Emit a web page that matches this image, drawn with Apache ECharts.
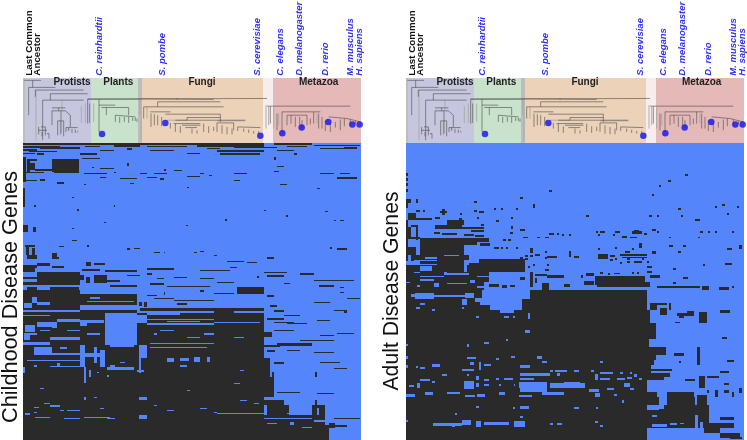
<!DOCTYPE html>
<html><head><meta charset="utf-8">
<style>html,body{margin:0;padding:0;background:#fff}#c{width:747px;height:440px}</style>
<script src="https://cdn.jsdelivr.net/npm/echarts@6/dist/echarts.min.js"></script>
</head><body><div id="c"></div>
<script>
// x units run 0-1014 across a panel (plus a panel offset), y units run down the panel.
const panelTitles = ['Childhood Disease Genes', 'Adult Disease Genes'];
const cladeBands = [
 ['', 68, 75, '#BDBDBD'], ['Protists', 75, 273, '#C6C6DF'], ['Plants', 273, 412, '#C8E2CC'], ['', 412, 426, '#BDBDBD'],
 ['Fungi', 426, 789, '#ECD2B8'], ['', 789, 819, '#F6EDEC'], ['Metazoa', 819, 1082, '#E4B9B8']];
const cladeLabels = [['Protists', 215], ['Plants', 354], ['Fungi', 605], ['Metazoa', 955]];
const ancestorLabels = [['Last Common', 88], ['Ancestor', 111]];
const speciesLabels = [['C. reinhardtii', 297], ['S. pombe', 486], ['S. cerevisiae', 772], ['C. elegans', 840],
 ['D. melanogaster', 898], ['D. rerio', 976], ['M. musculus', 1050], ['H. sapiens', 1077]];
const speciesDots = [[305, 401], [495, 368], [780, 406], [846, 399], [904, 382], [984, 365], [1056, 373], [1078, 373]];
const treeDark = [
 [72,241,122,241],[97,241,97,262],[85,262,165,262],[85,262,85,345],[105,270,250,270],[105,270,105,290],[150,281,262,281],[150,281,150,300],
 [127,300,250,300],[127,300,127,420],[155,323,195,323],[175,323,175,332],[155,332,195,332],[155,332,155,375],[182,332,182,400],[195,332,210,345],[210,345,210,380],
 [115,380,115,402],[115,390,140,390],[122,380,135,380],[135,380,135,405],[140,400,146,400],[146,400,146,415],[125,395,125,408],
 [172,362,172,405],[172,362,190,362],[190,362,190,408],[197,382,232,382],[197,382,197,395],[205,382,205,392],[215,386,215,398],[225,388,225,398],[232,392,232,396],
 [262,297,420,297],[262,297,262,370],[268,310,268,368],[262,297,800,295],[420,296,640,298],[530,294,530,298],
 [296,297,296,395],[296,315,345,315],[303,322,385,322],[318,322,318,345],[345,345,405,350],[345,345,345,365],[358,350,358,368],[372,350,372,365],[385,350,385,368],[397,352,397,362],[405,352,405,362],[410,355,410,365],[385,322,385,345],
 [430,320,670,320],[430,320,430,355],[472,305,472,320],[472,305,660,305],[450,335,510,335],[452,340,452,380],[462,342,462,375],[472,345,472,375],[484,350,484,378],[495,342,660,342],[660,342,660,365],
 [525,360,735,360],[560,352,660,352],[560,352,560,360],[520,370,600,370],[545,375,600,375],[510,368,510,385],[525,370,525,395],[540,378,540,398],[555,382,590,382],[575,385,575,400],[590,390,590,400],[610,370,610,395],[625,378,625,398],[640,380,640,392],
 [650,368,700,368],[650,368,650,395],[665,375,665,400],[680,380,680,402],[695,385,695,402],[700,368,700,390],[712,380,780,382],[712,380,712,392],[730,385,730,395],[745,388,745,398],[760,392,760,400],[775,392,775,402],
 [800,318,1050,318],[810,318,810,370],[830,340,830,390],[845,335,960,335],[845,335,845,395],[860,345,920,345],[860,345,860,375],[872,345,872,370],[885,350,885,380],[898,350,898,375],[905,360,905,383],[920,345,920,375],[930,355,930,372],
 [940,335,940,370],[955,340,955,385],[985,350,1040,355],[1040,355,1080,365],[965,350,965,385],[975,360,975,392],[990,370,990,395],[1005,365,1005,382],[1020,358,1020,390],[1032,355,1032,378],[1050,358,1050,372],[1065,362,1065,372]];
const treeLight = [
 [107,270,107,420],[185,300,185,330],[180,362,180,405],[243,318,243,368],[255,310,255,368],[280,310,280,365],
 [418,297,418,345],[422,300,422,420],[440,320,440,355],[500,360,560,360],[650,362,735,362],[797,315,797,385],[805,320,805,375],[820,322,820,385],[835,340,835,375],[950,340,950,370]];

const childTopDark = [
 [68,240,10,16],[68,180,18,24],[120,240,22,26],[68,110,27,33],[85,170,32,36],[68,105,38,43],[110,130,40,44],
 [240,430,10,14],[255,300,18,22],[340,420,16,20],[430,790,10,14],[440,560,18,22],[590,760,16,20],[700,790,14,24],[650,790,30,36],[660,780,38,44],[620,660,24,28],[820,935,10,16],[860,920,17,21],[790,830,20,24],[940,1080,14,18],[960,1040,24,27],[1030,1070,22,26],[830,880,30,34],[450,520,30,33],[300,340,30,33],[560,600,38,41],[820,826,50,60],[880,890,40,44],[380,395,25,30],[240,290,40,44],
 [155,237,57,95],[68,76,50,125],[80,110,57,62],[80,90,62,95],[90,105,70,90],[105,155,88,94],[74,130,96,100],[160,235,95,98],
 [245,300,55,58],[380,386,70,78],[300,340,85,88],[275,282,80,84],[340,346,95,99],[250,320,100,103],[420,440,98,101],[460,500,100,103],[490,498,88,92],[520,545,90,93],[600,610,98,102],[625,635,105,108],[700,740,100,103],[820,835,92,96],[960,1000,100,103],[1010,1070,112,116],[1020,1050,100,103],[440,470,112,115],[480,490,115,120],[75,110,120,124],[120,135,118,122],[170,192,125,132],[250,256,132,136],[390,400,128,132],[560,565,140,144],[950,958,145,148],[840,860,132,135],[700,720,120,123],[360,410,115,118],[300,316,112,115],[560,600,108,111],[830,850,78,82],
 [68,73,145,200],[215,220,170,174],[230,236,208,212],[100,106,195,200],[340,345,195,200],[790,798,210,214],[858,862,226,232],[675,680,238,242],[310,318,246,250],[975,983,212,216],[1000,1008,240,244],[1020,1030,240,244],[558,564,255,258],[215,220,265,268],[68,84,255,275],[98,106,262,275],
 [75,105,316,322],[78,85,322,345],[95,105,325,345],[80,110,345,356],[155,170,338,358],[170,175,350,358],[175,190,318,322],[215,230,300,303],[260,265,315,320],[380,390,325,329],[400,420,325,328],[1010,1040,325,329],[990,995,322,327],[460,480,335,338],[490,495,335,340],[580,590,335,338],[600,610,333,336],[640,650,345,348],[680,730,362,366],[740,770,367,370],[800,820,352,356],[690,710,380,383],
 [110,148,368,378],[68,110,376,384],[155,190,377,385],[258,272,367,378],[288,315,370,376],[280,290,370,376],[68,105,385,395],[245,300,388,392],[315,410,390,395],[440,520,385,390],[600,690,390,393],[790,860,395,398],
 [110,240,396,435],[68,110,410,416],[68,110,425,435],[80,110,440,450],[150,235,440,450],[258,270,410,430],[280,320,405,430],[240,250,405,420],[320,360,420,425],[450,490,428,436],[500,630,438,442],[710,790,441,450],[770,776,408,413],[800,850,405,410],[900,940,400,404],[820,860,395,400],[330,410,435,440],[650,700,425,428],[940,1060,420,423],[955,1000,435,440],[1020,1030,440,444],[380,420,405,408],[440,455,400,405],[470,490,415,418],[520,560,410,413],[600,640,415,418],[850,870,430,433]];
const childLowDark = [
 [68,240,0,450],[240,410,12,45],[240,315,68,450],[315,410,165,450],[240,410,60,68],
 [440,790,115,450],[410,440,100,450],[440,640,90,115],[640,790,70,115],[440,640,75,80],[710,790,0,13],
 [790,810,205,260],[790,820,260,320],[790,850,330,345],[800,865,345,375],[790,935,375,450],[935,975,345,450],[975,985,405,450],[985,1005,400,415],
 [800,850,85,90],[820,880,95,98],[790,815,125,140],[790,840,165,170],[830,935,160,168],[820,880,120,123],[900,1000,150,153],[860,900,180,183],[940,1000,185,190],[800,825,180,186],[820,850,215,222],[960,1020,215,218],[815,820,245,262],[943,950,245,262],[1000,1040,235,238],[1010,1060,130,133],[950,990,90,93],[1000,1040,60,63],[1030,1040,60,70],[830,900,305,308],[1000,1080,385,388],[950,1000,310,313],[945,950,330,345],[1000,1040,405,412],[820,850,60,65],[860,920,100,103],[960,1000,135,138],[810,830,45,50],[1040,1080,25,28],[940,990,35,38],[850,900,75,78],
 [440,470,15,18],[490,495,5,15],[430,440,35,50],[640,700,8,12],[530,560,40,44],[600,610,0,5],[520,640,30,33],[460,520,25,28],[800,820,15,20],[1020,1030,5,8],[420,790,55,62],[540,640,70,75],[640,700,62,70],
 [440,640,82,86],[410,440,70,74],[415,425,36,48]];
const childLowBlue = [
 [95,110,20,40],[110,150,35,45],[70,95,40,55],[110,155,95,112],[170,240,88,97],[155,170,97,115],[75,105,105,125],[240,310,90,100],[315,410,110,165],[340,410,90,110],[150,240,140,150],[68,150,155,165],[100,155,170,190],[240,255,165,230],[280,290,170,220],[300,315,180,230],[415,440,165,205],[415,422,205,250],[500,520,205,215],[540,565,205,212],[580,600,200,215],[620,630,200,215],[150,240,228,232],[320,400,232,240],[250,258,230,280],[100,240,190,195],[240,315,190,200],[410,430,240,246],[415,440,320,330],[415,440,375,388],[105,150,380,385],[190,240,385,388],[250,330,380,385],[650,790,368,372],[450,640,158,162],[450,620,170,174],[100,115,350,355],[150,180,345,350],[250,258,320,330],[75,90,370,374],[120,130,295,298],[540,560,225,230],[700,720,280,283],[640,650,365,370],
 [240,410,45,60],[68,240,60,66],[68,150,74,78],[260,400,32,36],[270,300,20,26],[440,640,100,104],[500,600,92,96],[640,780,96,100],[70,90,130,150],[80,240,210,214],[68,75,230,250],[860,880,370,373],[790,935,385,388],[800,830,400,403],[870,880,395,405],[940,975,390,395],[950,955,355,375],[905,935,410,415],
 [240,260,100,108],[330,400,165,170],[180,200,170,176],[85,110,130,134],[120,150,120,124],[200,240,120,124],[260,300,130,134],[265,272,240,260],[330,345,225,230],[360,375,215,220],[170,178,220,228],[100,110,225,230],[290,296,245,250],[320,326,255,260],[460,470,130,134],[560,600,140,144],[700,730,140,143],[610,640,130,134],[480,520,120,124],[100,110,365,368],[180,190,360,363],[130,150,340,343],[300,310,355,358],[280,290,320,323],[200,240,360,363],[320,345,385,388],[500,520,360,363],[460,470,345,348],[560,570,300,303],[720,740,330,333],[720,730,240,243],[600,620,355,358],[760,775,340,343]];

const adultTopDark = [
 [17,24,98,108],[17,24,113,123],[17,24,128,138],[17,24,146,156],[17,32,178,188],[46,53,178,188],[17,24,188,203],
 [222,229,183,188],[360,367,172,178],[447,455,150,157],[755,762,161,168],[775,783,135,141],[804,812,120,126],[855,863,103,109],
 [397,404,192,204],[280,288,204,210],[302,309,204,210],[346,353,204,210],[46,60,209,215],[68,75,209,215],[119,140,212,218],[126,133,206,224],[222,229,209,215],[236,250,214,220],[178,185,220,226],[24,46,220,235],[24,96,235,241],[104,118,232,238],[229,236,230,236],[331,338,230,236],[288,295,240,246],[557,565,226,232],[834,841,204,210],[944,951,198,204],[966,973,193,199],[1010,1017,198,204],[980,987,220,226],[842,849,225,231],[747,754,225,231],[769,776,225,231],[885,899,236,242],
 [17,24,240,345],[140,190,240,255],[175,185,235,262],[105,185,255,266],[32,53,255,262],[46,53,262,300],[17,60,290,296],[24,32,262,290],
 [243,250,252,258],[331,338,258,268],[360,375,268,273],[185,250,262,268],[212,250,270,276],[126,170,280,286],[100,118,275,282],[190,220,282,288],[225,250,285,290],
 [330,338,275,282],[324,331,298,304],[309,316,298,304],[367,382,290,295],[411,418,290,295],[433,447,290,295],[447,462,280,285],[470,477,280,285],[484,491,283,289],[506,513,283,289],[586,593,273,279],[600,615,273,279],[593,600,283,289],[644,659,273,279],[637,644,282,288],[695,724,273,283],[702,717,270,276],[688,710,290,295],[666,681,287,293],[732,739,280,286],[754,768,268,274],[769,776,273,279],[805,812,290,295],[893,900,290,295],[900,907,273,279],[922,929,273,279],[944,951,273,279],[995,1002,273,279],
 [60,190,295,345],[60,265,293,305],[190,230,305,315],[32,46,340,350],[17,205,345,360],[110,190,345,395],[17,190,375,395],[235,375,358,395],[200,235,370,400],[60,110,362,372],[24,46,322,345],
 [240,270,310,318],[280,295,322,328],[302,309,322,328],[317,324,322,328],[346,353,322,328],[390,397,325,340],[433,440,332,338],[506,513,332,338],[593,600,325,331],[644,651,322,328],[673,688,332,338],[695,702,325,331],[717,724,310,325],[754,768,332,342],[805,819,315,321],[849,856,315,321],[834,841,332,338],[980,995,325,331],[1017,1024,315,326],
 [440,470,348,354],[433,440,352,358],[506,513,340,352],[520,535,348,354],[593,622,343,357],[630,645,345,351],[630,637,357,363],[659,739,343,348],[666,739,350,355],[644,651,355,361],[681,688,355,361],[724,731,355,361],[659,666,365,371],[681,688,362,368],[702,724,362,368],[739,746,362,368],[375,382,345,351],[390,397,345,351],[404,418,343,349],[360,367,352,358],[375,382,355,361],[397,404,373,378],[382,390,378,383],[440,447,373,379],[433,447,387,393],[739,754,378,384],[819,826,385,391],[907,914,373,379],[973,995,368,374],
 [739,754,392,398],[849,863,410,416],[819,826,427,433],
 [390,397,395,440],[404,440,402,408],[440,490,405,413],[404,411,413,430],[426,447,430,450],[360,375,412,420],[490,510,433,440],[542,549,405,415],[558,580,398,408],[600,608,395,403],[622,630,400,405],[640,660,398,403],[695,702,395,401],[710,717,395,401],[585,735,408,435],[550,580,423,435],[590,750,427,440],[750,780,405,415],[770,830,437,445],[830,900,437,445],[905,925,437,450],[955,985,440,450],[995,1002,437,443],
 [17,265,395,450],[265,295,433,440],[305,320,435,445],[330,345,435,442],[17,40,350,362]];
const adultTopBlue = [
 [24,32,345,375],[60,96,378,393],[60,130,408,412],[130,140,395,405],[40,60,395,400],[60,100,418,422],[140,205,400,404],[230,275,408,412],[140,200,428,433],[17,30,425,430],[50,60,435,440],[100,115,430,440],[230,250,438,445],[250,265,425,450],[210,225,420,428],[75,110,352,358],[190,205,360,375],[130,175,345,348]];
const adultLowDark = [
 [17,740,0,450],[740,768,100,148],[740,747,148,172],[740,797,172,195],[740,768,195,210],[740,760,210,225],[740,752,225,262],[740,790,262,270],[740,775,320,345],[775,800,345,360],[800,885,320,345],[800,925,345,360],[740,925,360,400],[740,1000,400,415],[910,960,415,430],[960,1020,430,445],[990,1025,440,447],
 [740,750,60,100],[750,770,40,60],[770,800,40,45],[780,800,55,75],[805,812,40,60],[830,880,70,78],[835,850,70,85],[860,880,62,70],[895,920,65,100],[825,840,95,100],[960,990,60,68],[965,980,140,147],[890,900,172,225],[820,850,190,197],[835,842,212,218],[980,1000,210,215],[745,815,238,243],[745,810,250,262],[960,985,243,250],[855,885,268,272],[895,915,258,295],[920,955,258,265],[970,985,280,285],[920,927,300,310],[945,952,300,320],[970,985,300,310],[995,1002,305,320],[1017,1024,295,310],[890,920,315,345],[905,920,345,370],[960,1000,380,390],[740,770,305,320],[800,880,305,320]];
const adultLowBlue = [
 [245,390,0,28],[270,365,28,60],[240,300,25,45],[300,340,60,70],[100,195,15,20],[45,100,10,28],[32,45,12,20],[195,220,10,25],[185,200,28,45],[225,250,25,35],[60,75,40,45],[46,60,52,58],[96,104,57,62],[185,192,52,58],[228,235,77,83],[310,325,77,83],[338,345,77,83],[382,389,70,88],[375,389,120,130],[316,323,147,152],[250,265,157,162],[200,207,162,172],[17,24,162,168],[17,24,198,208],[17,24,225,235],
 [332,345,198,204],[411,425,198,208],[425,440,214,220],[600,607,214,220],[288,295,205,210],[200,228,202,208],[208,222,215,225],[185,222,237,242],[236,243,215,240],[250,273,222,228],[360,390,225,235],[96,118,222,232],[46,53,228,235],[60,75,232,237],[126,140,252,258],[450,457,241,247],[465,500,241,247],[520,535,241,247],[572,580,241,247],[600,637,247,253],[660,667,247,253],[688,695,247,253],[360,450,250,258],[470,480,250,258],[60,90,267,273],[96,104,272,278],[200,207,252,258],[228,235,258,270],[250,265,266,272],[288,295,264,270],[310,338,264,270],[360,400,264,270],[585,593,253,270],[600,630,264,270],[650,675,264,270],[680,695,262,268],[702,710,253,260],[717,725,264,270],
 [190,222,272,298],[228,235,280,290],[250,265,282,288],[295,302,282,288],[340,345,282,288],[355,440,275,295],[450,555,280,295],[490,540,275,293],[360,440,295,305],[565,595,298,305],[620,640,295,300],[670,690,280,290],[690,700,295,300],[25,40,285,290],[50,60,280,295],[17,45,312,320],[75,97,305,315],[140,178,307,312],[195,225,315,320],[230,255,312,320],[295,315,305,315],[355,395,315,320],[425,490,305,315],[585,600,310,320],[640,650,312,318],[665,672,330,338],[228,235,347,353],[338,345,352,358],[360,385,348,358],[520,535,352,358],[586,593,352,358],[163,170,368,375],[360,367,378,385],[97,185,400,408],[155,163,405,410],[185,213,390,405],[228,243,392,410],[250,325,395,405],[340,375,392,410],[450,457,400,405],[470,484,400,405],[585,593,393,400],[600,607,405,412],[17,24,390,395],
 [745,790,345,358],[775,800,320,345],[755,770,375,380],[755,800,402,410],[810,830,398,404],[840,850,398,403],[885,892,375,415],[900,908,395,415]];

const COLORS = {blue: '#5585FA', dark: '#2A2A2A', tree: '#4A4A4A', treeLight: '#A8A8A8', species: '#3030F0', dot: '#1010F0', label: '#1E1E1E'};
const PANELS = [{left: 23, top: 78, width: 338, xHeat: [68, 1082]}, {left: 406, top: 78, width: 338, xHeat: [17, 1031]}];
const BAND_H = 65, HEAT_H = 297;

function rectSeries(g, data, color, z) {
  return {type: 'custom', xAxisIndex: g, yAxisIndex: g, z, silent: true, clip: true, animation: false, progressive: 0,
    data, dimensions: ['x0', 'x1', 'y0', 'y1'], encode: {x: [0, 1], y: [2, 3]},
    renderItem(p, api) {
      const a = api.coord([api.value(0), api.value(2)]), b = api.coord([api.value(1), api.value(3)]);
      const x = Math.round(a[0]), y = Math.round(a[1]);
      return {type: 'rect', shape: {x, y, width: Math.max(1, Math.round(b[0]) - x), height: Math.max(1, Math.round(b[1]) - y)}, style: {fill: color}};
    }};
}
function segSeries(g, data, color, width, z) {
  return {type: 'custom', xAxisIndex: g, yAxisIndex: g, z, silent: true, clip: false, animation: false, progressive: 0,
    data, dimensions: ['x1', 'y1', 'x2', 'y2'], encode: {x: [0, 2], y: [1, 3]},
    renderItem(p, api) {
      const a = api.coord([api.value(0), api.value(1)]), b = api.coord([api.value(2), api.value(3)]);
      return {type: 'line', shape: {x1: a[0], y1: a[1], x2: b[0], y2: b[1]}, style: {stroke: color, lineWidth: width}};
    }};
}
function textSeries(g, rows, y, rotation, font, fill, align, z) {
  return {type: 'custom', xAxisIndex: g, yAxisIndex: g, z, silent: true, clip: false, animation: false,
    data: rows.map(r => [r[1], y]), encode: {x: 0, y: 1},
    renderItem(p, api) {
      const c = api.coord([api.value(0), api.value(1)]);
      return {type: 'text', x: c[0], y: c[1], rotation, style: {text: rows[p.dataIndex][0], font, fill, align, verticalAlign: 'middle'}};
    }};
}
const grid = [], xAxis = [], yAxis = [], series = [];
const hidden = {show: false};
function addAxes(left, top, width, height, xr, yr) {
  grid.push({left, top, width, height, containLabel: false});
  xAxis.push({type: 'value', min: xr[0], max: xr[1], gridIndex: grid.length - 1, ...hidden});
  yAxis.push({type: 'value', min: yr[0], max: yr[1], inverse: true, gridIndex: grid.length - 1, ...hidden});
  return grid.length - 1;
}
const shiftRows = rows => rows.map(r => [r[0], r[1], r[2] + 450, r[3] + 450]);
const heats = [
  {dark: childTopDark.concat(shiftRows(childLowDark)), blue: shiftRows(childLowBlue)},
  {dark: adultTopDark.concat(shiftRows(adultLowDark)), blue: adultTopBlue.concat(shiftRows(adultLowBlue))}];
PANELS.forEach((P, i) => {
  const b = addAxes(P.left, P.top, P.width, BAND_H, [68, 1082], [234, 428]);
  const h = addAxes(P.left, P.top + BAND_H, P.width, HEAT_H, P.xHeat, [9, 900]);
  cladeBands.forEach(c => series.push(rectSeries(b, [[c[1], c[2], 234, 428]], c[3], 2)));
  series.push(segSeries(b, treeLight, COLORS.treeLight, 0.9, 3));
  series.push(segSeries(b, treeDark, COLORS.tree, 0.6, 4));
  series.push({type: 'scatter', xAxisIndex: b, yAxisIndex: b, data: speciesDots, symbolSize: 6.5, z: 5, silent: true, animation: false, itemStyle: {color: COLORS.dot}});
  series.push(textSeries(b, cladeLabels, 246, 0, 'bold 10px "Liberation Sans"', COLORS.label, 'center', 6));
  series.push(textSeries(b, ancestorLabels, 227, Math.PI / 2, 'bold 9.8px "Liberation Sans"', '#111', 'left', 6));
  series.push(textSeries(b, speciesLabels, 227, Math.PI / 2, 'italic bold 9.5px "Liberation Sans"', COLORS.species, 'left', 6));
  series.push(rectSeries(h, [[P.xHeat[0], P.xHeat[1], 9, 900]], COLORS.blue, 2));
  series.push(rectSeries(h, heats[i].dark, COLORS.dark, 3));
  series.push(rectSeries(h, heats[i].blue, COLORS.blue, 4));
});
const chart = echarts.init(document.getElementById('c'), null, {renderer: 'canvas'});
chart.setOption({
  animation: false, backgroundColor: '#fff', grid, xAxis, yAxis, series,
  graphic: [
    {type: 'text', x: 11, y: 297, rotation: Math.PI / 2, style: {text: panelTitles[0], font: '21.7px "Liberation Sans"', fill: '#111', textAlign: 'center', textVerticalAlign: 'middle'}},
    {type: 'text', x: 392, y: 291, rotation: Math.PI / 2, style: {text: panelTitles[1], font: '21.2px "Liberation Sans"', fill: '#111', textAlign: 'center', textVerticalAlign: 'middle'}}
  ]
});
</script></body></html>
